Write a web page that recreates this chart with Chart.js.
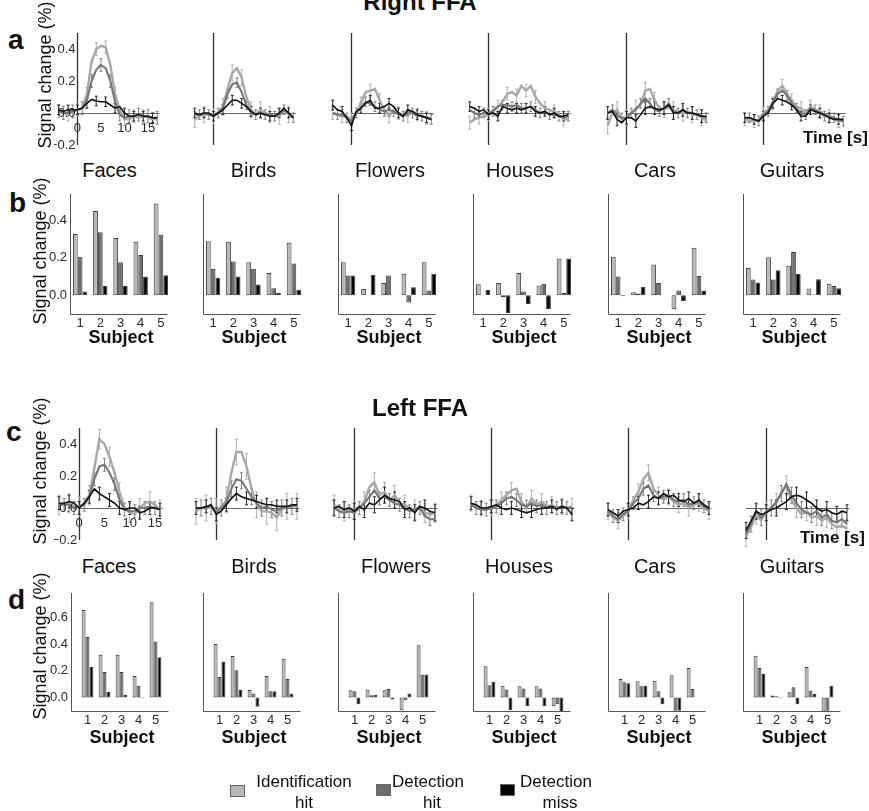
<!DOCTYPE html>
<html>
<head>
<meta charset="utf-8">
<title>Right and Left FFA responses</title>
<script src="https://cdn.jsdelivr.net/npm/chart.js@4.4.1/dist/chart.umd.min.js"></script>
<style>
  body { margin: 0; background: #fff; }
  #fig { position: relative; width: 869px; height: 811px; overflow: hidden;
         font-family: "Liberation Sans", Arial, Helvetica, sans-serif; color: #111; }
  #fig canvas { position: absolute; }
  .t { position: absolute; white-space: nowrap; line-height: 1; }
  .c { transform: translate(-50%, -50%); }
  .l { transform: translate(0, -50%); }
  .ylab { position: absolute; white-space: nowrap; line-height: 1; font-size: 18px;
          transform: translate(-50%, -50%) rotate(-90deg); }
  .key { position: absolute; width: 15px; height: 12px; box-sizing: border-box; border: 1px solid #666; }
</style>
</head>
<body>
<div id="fig"></div>
<script>
const categories = ["Faces", "Birds", "Flowers", "Houses", "Cars", "Guitars"];
const subjects = ["1", "2", "3", "4", "5"];
const seriesNames = ["Identification hit", "Detection hit", "Detection miss"];
const timeRight = [-4,-3,-2,-1,0,1,2,3,4,5,6,7,8,9,10,11,12,13,14,15,16,17];
const timeLeft = [-4,-3,-2,-1,0,1,2,3,4,5,6,7,8,9,10,11,12,13,14,15,16];
const timeTicks = [0, 5, 10, 15];
const lineYTicks = [-0.2, 0, 0.2, 0.4];
const barYTicksB = [0, 0.2, 0.4];
const barYTicksD = [0, 0.2, 0.4, 0.6];

// Right FFA time courses (rows: Faces, Birds, Flowers, Houses, Cars, Guitars)
const tcRightId = [
  [0.01,0.0,-0.01,0.01,0.02,0.03,0.12,0.32,0.40,0.42,0.41,0.30,0.12,0.02,-0.04,-0.04,-0.02,-0.03,-0.02,-0.03,-0.04,-0.04],
  [-0.04,-0.02,-0.01,-0.01,-0.02,0.0,0.04,0.15,0.25,0.28,0.22,0.10,0.02,-0.01,0.02,0.0,-0.01,-0.02,-0.02,0.02,-0.01,-0.03],
  [0.0,-0.01,-0.02,-0.02,-0.04,0.0,0.06,0.13,0.14,0.15,0.08,0.02,-0.02,0.02,0.0,-0.01,-0.02,0.01,-0.01,-0.02,-0.03,-0.03],
  [-0.06,-0.04,-0.03,-0.02,-0.01,0.02,0.04,0.07,0.12,0.13,0.11,0.17,0.14,0.17,0.10,0.06,0.03,0.02,0.01,-0.01,-0.04,-0.04],
  [-0.08,0.0,0.02,-0.04,-0.03,0.0,0.03,0.05,0.14,0.15,0.08,0.03,0.02,0.04,0.02,0.01,0.0,0.01,-0.01,-0.01,-0.03,-0.05],
  [-0.04,-0.05,-0.05,-0.04,0.0,0.02,0.06,0.14,0.17,0.12,0.08,0.04,0.03,0.0,0.04,0.02,0.01,-0.01,-0.02,-0.04,-0.05,-0.05]
];
const tcRightDh = [
  [0.01,0.0,0.0,0.01,0.02,0.03,0.08,0.20,0.27,0.30,0.28,0.20,0.07,-0.01,-0.03,-0.02,-0.02,-0.01,-0.02,-0.02,-0.03,-0.03],
  [-0.01,-0.01,0.0,-0.01,-0.01,0.0,0.03,0.12,0.18,0.19,0.13,0.05,0.0,-0.01,0.0,-0.01,-0.01,-0.02,-0.01,0.02,0.0,-0.03],
  [0.0,-0.01,-0.01,-0.03,-0.05,0.0,0.03,0.07,0.06,0.04,0.02,0.01,0.02,0.01,-0.01,-0.02,0.01,0.0,-0.02,-0.02,-0.03,-0.04],
  [0.02,0.0,-0.01,0.0,0.0,0.01,0.04,0.05,0.05,0.04,0.05,0.03,0.03,0.04,0.02,0.0,0.01,-0.01,-0.01,-0.02,-0.03,-0.02],
  [0.0,0.02,-0.02,-0.03,-0.03,0.0,0.02,0.06,0.09,0.06,0.02,0.01,0.03,0.06,0.01,0.0,0.02,0.0,0.0,-0.01,-0.02,-0.03],
  [-0.03,-0.03,-0.04,-0.05,-0.01,0.01,0.07,0.12,0.14,0.11,0.06,0.03,0.0,-0.01,0.03,0.02,0.0,-0.02,-0.02,-0.03,-0.04,-0.05]
];
const tcRightDm = [
  [0.02,0.01,0.02,0.02,0.02,0.03,0.06,0.085,0.075,0.07,0.07,0.05,0.03,0.04,0.0,-0.02,-0.02,-0.01,-0.02,-0.02,-0.03,-0.03],
  [0.0,-0.01,0.0,0.0,-0.02,0.0,0.02,0.05,0.08,0.08,0.06,0.04,0.01,-0.01,0.0,-0.01,-0.02,-0.02,0.0,0.03,0.0,-0.03],
  [0.05,0.02,0.01,-0.03,-0.08,0.01,0.03,0.06,0.08,0.03,0.03,0.04,0.06,0.04,0.0,-0.02,0.02,0.01,-0.01,-0.02,-0.03,-0.04],
  [0.04,0.03,0.01,0.02,-0.01,0.0,-0.02,0.04,0.03,0.02,0.03,0.02,0.03,0.04,0.01,0.0,0.01,-0.01,0.0,-0.02,-0.02,-0.01],
  [0.0,0.01,-0.04,-0.06,-0.03,-0.03,-0.05,-0.01,0.03,0.04,0.03,0.02,0.03,0.05,0.0,0.0,0.02,0.0,0.0,-0.01,-0.02,-0.02],
  [-0.03,-0.03,-0.04,-0.05,-0.02,0.0,0.06,0.09,0.08,0.07,0.05,0.02,-0.02,-0.02,0.02,0.01,0.0,-0.01,-0.03,-0.04,-0.04,-0.04]
];
// typical error bar half-length per category: [id, det hit, det miss]
const semRight = [[0.04,0.04,0.03],[0.05,0.03,0.03],[0.04,0.03,0.03],[0.04,0.03,0.03],[0.05,0.03,0.04],[0.04,0.03,0.03]];

// Left FFA time courses
const tcLeftId = [
  [0.02,0.03,0.03,0.0,0.01,0.03,0.08,0.25,0.43,0.40,0.32,0.22,0.10,0.0,-0.03,-0.04,0.0,0.03,0.04,0.02,-0.01],
  [-0.02,0.0,0.0,0.01,-0.02,0.01,0.05,0.22,0.35,0.35,0.26,0.12,0.02,-0.02,-0.02,-0.03,-0.06,-0.01,0.01,0.01,0.01],
  [0.02,0.0,-0.02,0.0,-0.01,0.0,0.04,0.13,0.16,0.08,0.10,0.05,0.08,0.03,0.02,0.0,-0.01,0.01,-0.03,-0.04,-0.03],
  [0.03,0.01,0.0,-0.01,0.0,0.02,0.05,0.08,0.11,0.12,0.04,0.0,0.06,0.02,0.04,0.01,0.02,0.0,0.01,0.0,0.01],
  [-0.02,-0.06,-0.08,-0.05,-0.02,0.05,0.10,0.18,0.22,0.12,0.08,0.05,0.07,0.04,0.02,0.03,0.0,0.02,0.03,0.0,-0.02],
  [-0.18,-0.12,-0.04,-0.08,-0.02,0.0,0.03,0.10,0.14,0.05,0.0,-0.04,-0.02,-0.06,-0.05,-0.08,-0.06,-0.10,-0.12,-0.11,-0.13]
];
const tcLeftDh = [
  [0.02,0.02,0.02,0.0,0.01,0.02,0.07,0.18,0.26,0.27,0.22,0.15,0.05,-0.01,-0.02,-0.02,0.0,0.0,0.01,0.0,-0.01],
  [0.0,0.0,0.0,0.01,-0.03,0.0,0.03,0.12,0.18,0.17,0.12,0.07,0.03,0.0,0.01,-0.01,-0.02,0.0,0.01,0.01,0.02],
  [0.0,-0.02,-0.03,-0.02,-0.03,0.0,0.03,0.07,0.11,0.06,0.07,0.05,0.03,0.02,0.0,-0.02,-0.01,0.0,-0.05,-0.07,-0.07],
  [0.02,0.0,-0.01,-0.01,0.0,0.01,0.03,0.06,0.07,0.05,0.02,0.01,0.03,0.01,0.02,0.0,0.01,0.0,0.01,0.0,0.0],
  [-0.02,-0.05,-0.07,-0.04,-0.02,0.03,0.06,0.12,0.14,0.08,0.06,0.07,0.08,0.05,0.04,0.05,0.02,0.03,0.04,0.01,-0.01],
  [-0.16,-0.10,-0.02,-0.06,-0.02,0.0,0.04,0.09,0.15,0.08,0.03,-0.01,-0.03,-0.04,-0.02,-0.06,-0.04,-0.08,-0.09,-0.07,-0.10]
];
const tcLeftDm = [
  [0.03,0.03,0.04,0.03,0.0,0.03,0.07,0.12,0.09,0.07,0.05,0.03,0.0,-0.01,0.0,0.0,-0.03,-0.02,0.0,0.0,-0.01],
  [0.0,0.0,0.01,0.02,-0.04,-0.02,0.02,0.06,0.09,0.07,0.06,0.05,0.04,0.03,0.02,0.02,0.01,0.01,0.01,0.02,0.02],
  [0.0,0.01,-0.01,0.0,-0.02,0.01,-0.01,0.03,0.02,0.05,0.08,0.06,0.05,0.04,-0.01,0.0,-0.03,0.01,0.0,-0.02,-0.03],
  [0.03,0.02,0.0,0.0,0.01,0.02,0.0,-0.01,0.0,-0.01,-0.02,-0.03,-0.02,-0.01,0.0,0.0,0.01,-0.01,0.01,0.0,-0.04],
  [-0.01,-0.03,-0.05,-0.02,-0.01,0.0,0.03,0.02,0.04,0.07,0.06,0.09,0.07,0.08,0.05,0.04,0.06,0.03,0.05,0.02,0.0],
  [-0.14,-0.08,-0.02,-0.04,-0.03,-0.01,0.0,0.02,0.04,0.07,0.08,0.07,0.05,0.03,0.0,-0.02,-0.01,-0.03,-0.04,-0.02,-0.03]
];
const semLeft = [[0.06,0.04,0.04],[0.08,0.05,0.04],[0.06,0.04,0.05],[0.05,0.04,0.04],[0.05,0.04,0.04],[0.06,0.05,0.05]];

// Per-subject bars, Right FFA (rows: categories, columns: subjects 1-5)
const barRightId = [
  [0.327,0.45,0.306,0.285,0.49],
  [0.288,0.285,0.176,0.119,0.28],
  [0.176,0.034,0.066,0.115,0.176],
  [0.059,0.066,0.119,0.052,0.196],
  [0.206,0.016,0.164,-0.075,0.254],
  [0.146,0.203,0.158,0.036,0.062]
];
const barRightDh = [
  [0.206,0.336,0.176,0.215,0.323],
  [0.142,0.18,0.142,0.037,0.169],
  [0.105,0.002,0.105,-0.039,0.025],
  [0.003,-0.011,0.02,0.062,0.012],
  [0.10,0.009,0.066,0.025,0.103],
  [0.084,0.084,0.231,0.004,0.05]
];
const barRightDm = [
  [0.02,0.05,0.05,0.10,0.107],
  [0.094,0.10,0.057,0.012,0.03],
  [0.105,0.11,0.002,0.043,0.115],
  [0.028,-0.094,-0.046,-0.073,0.196],
  [-0.005,0.046,0.0,-0.03,0.025],
  [0.068,0.133,0.114,0.085,0.037]
];

// Per-subject bars, Left FFA
const barLeftId = [
  [0.654,0.32,0.32,0.161,0.711],
  [0.40,0.31,0.057,0.161,0.29],
  [0.055,0.06,0.055,-0.094,0.39],
  [0.233,0.089,0.084,0.084,-0.064],
  [0.139,0.121,0.126,0.166,0.22],
  [0.312,0.015,0.04,0.228,-0.099]
];
const barLeftDh = [
  [0.451,0.19,0.19,0.089,0.419],
  [0.154,0.203,0.03,0.047,0.139],
  [0.047,0.017,0.064,-0.02,0.173],
  [0.092,0.06,0.067,0.067,-0.05],
  [0.114,0.084,0.047,-0.099,0.064],
  [0.22,0.01,0.077,0.052,-0.099]
];
const barLeftDm = [
  [0.228,0.042,0.022,-0.005,0.30],
  [0.27,0.057,-0.069,0.047,0.03],
  [-0.05,0.022,-0.015,0.03,0.173],
  [0.119,-0.094,-0.064,-0.064,-0.107],
  [0.107,0.089,-0.05,-0.099,0.0],
  [0.178,-0.005,-0.05,0.027,0.089]
];

const fig = document.getElementById("fig");
const tickFont = '13px "Liberation Sans", Arial, sans-serif';
const fmt = v => (v < 0 ? "\u2212" : "") + Math.abs(v).toFixed(1);

// axes, error bars and tick labels drawn from the chart's own scales
const panelAxes = {
  id: "panelAxes",
  beforeDatasetsDraw(chart, args, o) {
    const ctx = chart.ctx, ca = chart.chartArea, x = chart.scales.x, y = chart.scales.y;
    ctx.save();
    if (o.kind === "line") {
      const x0 = Math.round(x.getPixelForValue(0)) + 0.5;
      const yz = Math.round(y.getPixelForValue(0)) + 0.5;
      ctx.strokeStyle = "#6a6a6a"; ctx.lineWidth = 1;
      ctx.beginPath();
      ctx.moveTo(x.getPixelForValue(o.tStart), yz);
      ctx.lineTo(x.getPixelForValue(o.tEnd), yz);
      ctx.stroke();
      ctx.strokeStyle = "#333"; ctx.lineWidth = 1.3;
      ctx.beginPath();
      ctx.moveTo(x0, y.getPixelForValue(0.5));
      ctx.lineTo(x0, y.getPixelForValue(-0.2));
      ctx.stroke();
      // error bars on alternate samples, like the original
      chart.data.datasets.forEach((ds, i) => {
        const pts = chart.getDatasetMeta(i).data;
        ctx.strokeStyle = ds.borderColor; ctx.lineWidth = 0.9;
        ctx.beginPath();
        pts.forEach((p, j) => {
          if ((j + i) % 2) return;
          const v = ds.data[j].y;
          const yt = y.getPixelForValue(v + ds.sem), yb = y.getPixelForValue(v - ds.sem);
          ctx.moveTo(p.x, yt); ctx.lineTo(p.x, yb);
          ctx.moveTo(p.x - 1.5, yt); ctx.lineTo(p.x + 1.5, yt);
          ctx.moveTo(p.x - 1.5, yb); ctx.lineTo(p.x + 1.5, yb);
        });
        ctx.stroke();
      });
    } else {
      const ax = Math.round(ca.left - o.gap) + 0.5, by = Math.round(ca.bottom) + 0.5;
      ctx.strokeStyle = "#555"; ctx.lineWidth = 1;
      ctx.beginPath();
      ctx.moveTo(ax, ca.top); ctx.lineTo(ax, by); ctx.lineTo(ax + o.len, by);
      ctx.stroke();
    }
    ctx.restore();
  },
  afterDraw(chart, args, o) {
    const ctx = chart.ctx, ca = chart.chartArea, x = chart.scales.x, y = chart.scales.y;
    ctx.save();
    ctx.fillStyle = "#2a2a2a"; ctx.font = tickFont; ctx.textBaseline = "middle";
    if (o.kind === "line") {
      if (o.ticks) {
        const x0 = x.getPixelForValue(0), yz = y.getPixelForValue(0);
        ctx.textAlign = "right";
        lineYTicks.forEach(v => ctx.fillText(fmt(v), x0 - 2, y.getPixelForValue(v)));
        ctx.textAlign = "center";
        timeTicks.forEach(t => ctx.fillText(String(t), x.getPixelForValue(t), yz + 15));
      }
    } else {
      const ax = ca.left - o.gap;
      ctx.textAlign = "center";
      subjects.forEach((s, i) => ctx.fillText(s, x.getPixelForValue(i), ca.bottom + o.labelDy));
      if (o.yTicks) {
        ctx.textAlign = "right";
        o.yTicks.forEach(v => ctx.fillText(fmt(v), ax - 3, y.getPixelForValue(v)));
      }
      ctx.fillStyle = "#111";
      ctx.font = 'bold 18px "Liberation Sans", Arial, sans-serif';
      ctx.textAlign = "center";
      ctx.fillText("Subject", ax + 51, ca.bottom + o.subjDy);
    }
    ctx.restore();
  }
};

function makeCanvas(left, top, w, h) {
  const c = document.createElement("canvas");
  c.width = w; c.height = h;
  c.style.left = left + "px"; c.style.top = top + "px";
  c.style.width = w + "px"; c.style.height = h + "px";
  fig.appendChild(c);
  return c;
}

function lineChart(canvas, time, id, dh, dm, sem, o) {
  const pts = vals => time.map((t, i) => ({ x: t, y: vals[i] }));
  return new Chart(canvas, {
    type: "line",
    data: {
      datasets: [
        { label: seriesNames[0], data: pts(id), borderColor: "#a8a8a8", borderWidth: 2.4, sem: sem[0], order: 3 },
        { label: seriesNames[1], data: pts(dh), borderColor: "#767676", borderWidth: 2.1, sem: sem[1], order: 2 },
        { label: seriesNames[2], data: pts(dm), borderColor: "#111111", borderWidth: 1.6, sem: sem[2], order: 1 }
      ]
    },
    options: {
      responsive: false, animation: false, devicePixelRatio: 1, events: [],
      layout: { padding: 0 },
      elements: { point: { radius: 0 }, line: { tension: 0 } },
      plugins: { legend: { display: false }, tooltip: { enabled: false }, panelAxes: o },
      scales: {
        x: { type: "linear", display: false, min: o.xMin, max: o.xMax },
        y: { display: false, min: -0.25, max: 0.55 }
      }
    },
    plugins: [panelAxes]
  });
}

function barChart(canvas, id, dh, dm, o) {
  return new Chart(canvas, {
    type: "bar",
    data: {
      labels: subjects,
      datasets: [
        { label: seriesNames[0], data: id, backgroundColor: "#b8b8b8" },
        { label: seriesNames[1], data: dh, backgroundColor: "#6e6e6e" },
        { label: seriesNames[2], data: dm, backgroundColor: "#050505" }
      ]
    },
    options: {
      responsive: false, animation: false, devicePixelRatio: 1, events: [],
      layout: { padding: { left: o.padL, right: o.padR, top: o.padT, bottom: o.padB } },
      datasets: { bar: { barPercentage: 1, categoryPercentage: o.catPct, borderWidth: 1,
                         borderColor: "#3c3c3c", borderSkipped: false } },
      plugins: { legend: { display: false }, tooltip: { enabled: false }, panelAxes: o },
      scales: {
        x: { display: false, offset: true },
        y: { display: false, min: o.yMin, max: o.yMax }
      }
    },
    plugins: [panelAxes]
  });
}

// row a: Right FFA time courses
const unitPx = 160;
const x0A = [77, 213, 351, 488, 626, 763], pxA = 4.68, zeroA = 113;
x0A.forEach((x0, k) => {
  const c = makeCanvas(Math.round(x0 - 5 * pxA), Math.round(zeroA - 0.55 * unitPx),
                       Math.round(23 * pxA), Math.round(0.8 * unitPx));
  lineChart(c, timeRight, tcRightId[k], tcRightDh[k], tcRightDm[k], semRight[k],
            { kind: "line", xMin: -5, xMax: 18, tStart: 0, tEnd: 17.5, ticks: k === 0 });
});

// row c: Left FFA time courses
const x0C = [79, 216.5, 354, 491, 628, 766], pxC = 5.03, zeroC = 508.3;
x0C.forEach((x0, k) => {
  const c = makeCanvas(Math.round(x0 - 5 * pxC), Math.round(zeroC - 0.55 * unitPx),
                       Math.round(22 * pxC), Math.round(0.8 * unitPx));
  lineChart(c, timeLeft, tcLeftId[k], tcLeftDh[k], tcLeftDm[k], semLeft[k],
            { kind: "line", xMin: -5, xMax: 17, tStart: k === 5 ? -4 : 0, tEnd: 16.5, ticks: k === 0 });
});

// row b: Right FFA per subject
const axisB = [70, 203, 338, 473, 608, 743];
axisB.forEach((ax, k) => {
  const padL = 34, padR = 4, padT = 4, padB = 40, w = 101, h = 120, top = 194;
  const c = makeCanvas(ax - padL, top - padT, padL + w + padR, padT + h + padB);
  barChart(c, barRightId[k], barRightDh[k], barRightDm[k],
           { kind: "bar", padL, padR, padT, padB, yMin: -0.1, yMax: 0.54, catPct: 0.71,
             gap: 0, len: 97, labelDy: 9, subjDy: 24, yTicks: k === 0 ? barYTicksB : null });
});

// row d: Left FFA per subject
const axisD = [71, 203, 338, 473, 608, 743];
axisD.forEach((ax, k) => {
  const padL = 42, padR = 16, padT = 4, padB = 42, w = 85, h = 118, top = 593;
  const c = makeCanvas(ax - 34, top - padT, padL + w + padR, padT + h + padB);
  barChart(c, barLeftId[k], barLeftDh[k], barLeftDm[k],
           { kind: "bar", padL, padR, padT, padB, yMin: -0.1, yMax: 0.78, catPct: 0.69,
             gap: 8, len: 97, labelDy: 9, subjDy: 27, yTicks: k === 0 ? barYTicksD : null });
});

// text around the panels
function label(text, x, y, css, cls) {
  const d = document.createElement("div");
  d.className = "t " + (cls || "c");
  d.textContent = text;
  d.style.cssText = "left:" + x + "px;top:" + y + "px;" + css;
  fig.appendChild(d);
}
function ylabel(x, y) {
  const d = document.createElement("div");
  d.className = "ylab";
  d.textContent = "Signal change (%)";
  d.style.left = x + "px"; d.style.top = y + "px";
  fig.appendChild(d);
}

label("Right FFA", 420, 2, "font-size:24px;font-weight:bold;");
label("Left FFA", 420, 408, "font-size:24px;font-weight:bold;");
label("a", 8, 40, "font-size:28px;font-weight:bold;", "l");
label("b", 9, 203, "font-size:28px;font-weight:bold;", "l");
label("c", 6, 432, "font-size:28px;font-weight:bold;", "l");
label("d", 8, 600, "font-size:28px;font-weight:bold;", "l");
ylabel(45, 75); ylabel(40, 251); ylabel(40, 471); ylabel(40, 646);
label("Time [s]", 803, 137, "font-size:17px;font-weight:bold;", "l");
label("Time [s]", 800, 537, "font-size:17px;font-weight:bold;", "l");

const titleXB = [109.5, 253.5, 390, 520, 655, 792];
const titleXD = [109, 254, 396, 519, 655, 792];
categories.forEach((name, k) => {
  label(name, titleXB[k], 170, "font-size:20px;");
  label(name, titleXD[k], 566, "font-size:20px;");
});

// legend
const keyBoxes = [
  { x: 230, y: 785, color: "#b8b8b8" },
  { x: 376, y: 784, color: "#6e6e6e" },
  { x: 500, y: 784, color: "#050505" }
];
const keyText = [["Identification", "hit", 304], ["Detection", "hit", 428], ["Detection", "miss", 556]];
keyBoxes.forEach((b, i) => {
  const d = document.createElement("div");
  d.className = "key";
  d.style.left = b.x + "px"; d.style.top = b.y + "px"; d.style.background = b.color;
  d.title = seriesNames[i];
  fig.appendChild(d);
  label(keyText[i][0], keyText[i][2], 781, "font-size:17px;");
  label(keyText[i][1], keyText[i][2] + (i === 0 ? 0 : 4), 802, "font-size:17px;");
});
</script>
</body>
</html>
